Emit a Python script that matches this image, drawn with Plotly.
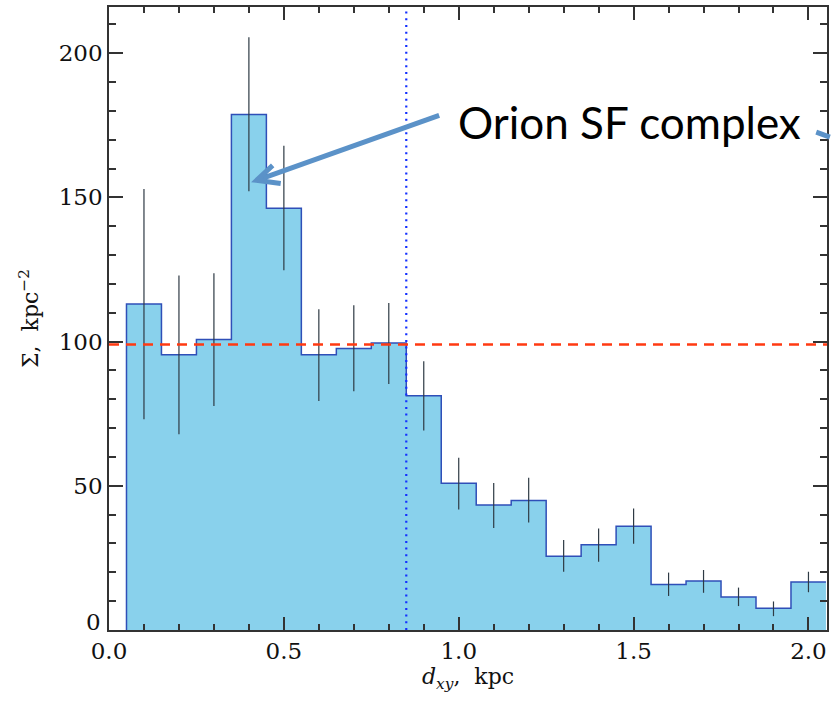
import plotly.graph_objects as go

# Data
bin_centers = [0.1, 0.2, 0.3, 0.4, 0.5, 0.6, 0.7, 0.8, 0.9, 1.0,
               1.1, 1.2, 1.3, 1.4, 1.5, 1.6, 1.7, 1.8, 1.9, 2.0]
sigma = [113.0, 95.4, 100.7, 178.7, 146.2, 95.4, 97.6, 99.5, 81.2, 50.9,
         43.3, 44.9, 25.6, 29.6, 36.0, 15.8, 17.0, 11.4, 7.5, 16.6]
err_upper = [152.9, 122.9, 123.7, 205.5, 167.9, 111.2, 112.6, 113.4, 93.2, 59.7,
             51.0, 52.8, 31.2, 35.2, 42.1, 19.9, 20.8, 14.7, 9.9, 20.2]
err_lower = [73.1, 67.9, 77.7, 152.1, 124.7, 79.4, 82.8, 85.3, 69.2, 41.8,
             35.4, 37.3, 20.2, 23.7, 29.9, 11.8, 12.9, 8.3, 4.8, 13.1]
y_tickvals = [0, 50, 100, 150, 200]
x_tickvals = [0.0, 0.5, 1.0, 1.5, 2.0]
bin_width = 0.1
mean_level = 99.0
cut_radius = 0.85

x_range = [0.0, 2.053]
y_range = [0.0, 216.0]

edges = [c - bin_width / 2 for c in bin_centers] + [bin_centers[-1] + bin_width / 2]
step_x = [edges[0]] + edges
step_y = [0.0] + sigma + [sigma[-1]]

fig = go.Figure()

fig.add_trace(go.Scatter(
    x=step_x, y=step_y, mode="lines", line_shape="hv",
    line=dict(color="#2f4fb8", width=1.5),
    fill="tozeroy", fillcolor="#89d1ec", hoverinfo="skip", showlegend=False))

fig.add_trace(go.Scatter(
    x=bin_centers, y=sigma, mode="markers",
    marker=dict(size=1, opacity=0),
    error_y=dict(type="data", symmetric=False,
                 array=[u - s for u, s in zip(err_upper, sigma)],
                 arrayminus=[s - l for s, l in zip(sigma, err_lower)],
                 color="#2e3a44", thickness=1.2, width=0),
    showlegend=False))

fig.add_trace(go.Scatter(
    x=x_range, y=[mean_level, mean_level], mode="lines",
    line=dict(color="#ff3a12", width=2.5, dash="10px,7px"), showlegend=False))
fig.add_trace(go.Scatter(
    x=[cut_radius, cut_radius], y=y_range, mode="lines",
    line=dict(color="#1430ff", width=2.2, dash="2px,4.7px"), showlegend=False))

arrow_color = "#5b92c8"
tail = (0.944, 178.4)
head = (0.422, 155.9)
arm1 = (0.468, 161.1)
arm2 = (0.491, 154.8)
fig.add_shape(type="line", xref="x", yref="y",
              x0=tail[0], y0=tail[1], x1=head[0], y1=head[1],
              line=dict(color=arrow_color, width=5))
fig.add_shape(type="path", xref="x", yref="y",
              path=f"M {arm1[0]} {arm1[1]} L {head[0]} {head[1]} L {arm2[0]} {arm2[1]}",
              line=dict(color=arrow_color, width=5))
fig.add_shape(type="line", xref="paper", yref="paper",
              x0=0.985, y0=0.799, x1=1.004, y1=0.791,
              line=dict(color=arrow_color, width=5))

fig.add_annotation(x=0.725, y=0.815, xref="paper", yref="paper",
                   text="Orion SF complex", showarrow=False,
                   font=dict(family="Lato", size=44, color="black"),
                   xanchor="center", yanchor="middle")

tick_col = "#333333"
label_font = dict(family="DejaVu Serif", size=23, color="#111111")

# y "0" label sits slightly above the axis corner, as in the original
fig.add_annotation(x=0, y=y_tickvals[0], xref="paper", yref="y",
                   text=str(y_tickvals[0]), showarrow=False,
                   xanchor="right", yanchor="middle", xshift=-6, yshift=8,
                   font=label_font)

fig.update_xaxes(range=x_range, tickvals=x_tickvals,
                 ticktext=[f"{v:.1f}" for v in x_tickvals],
                 ticks="inside", ticklen=13, tickwidth=1.5, tickcolor=tick_col,
                 minor=dict(ticks="inside", dtick=0.1, tick0=0, ticklen=6, tickcolor=tick_col),
                 showline=True, linecolor=tick_col, linewidth=1.5, mirror="allticks",
                 showgrid=False, zeroline=False,
                 tickfont=label_font,
                 title=dict(text="<i>d</i><sub><i>xy</i></sub>,  kpc",
                            font=dict(family="DejaVu Serif", size=22, color="#111111"),
                            standoff=4))
fig.update_yaxes(range=y_range, tickvals=y_tickvals,
                 ticktext=[""] + [str(v) for v in y_tickvals[1:]],
                 ticks="inside", ticklen=14, tickwidth=1.5, tickcolor=tick_col,
                 minor=dict(ticks="inside", dtick=10, tick0=0, ticklen=7, tickcolor=tick_col),
                 showline=True, linecolor=tick_col, linewidth=1.5, mirror="allticks",
                 showgrid=False, zeroline=False,
                 tickfont=label_font,
                 title=dict(text="Σ,  kpc<sup>−2</sup>",
                            font=dict(family="DejaVu Serif", size=22, color="#111111"),
                            standoff=14))

fig.update_layout(
    width=831, height=708,
    margin=dict(l=109, r=2, t=7, b=78),
    paper_bgcolor="white", plot_bgcolor="white",
    showlegend=False,
)

fig.write_html("out.html")
